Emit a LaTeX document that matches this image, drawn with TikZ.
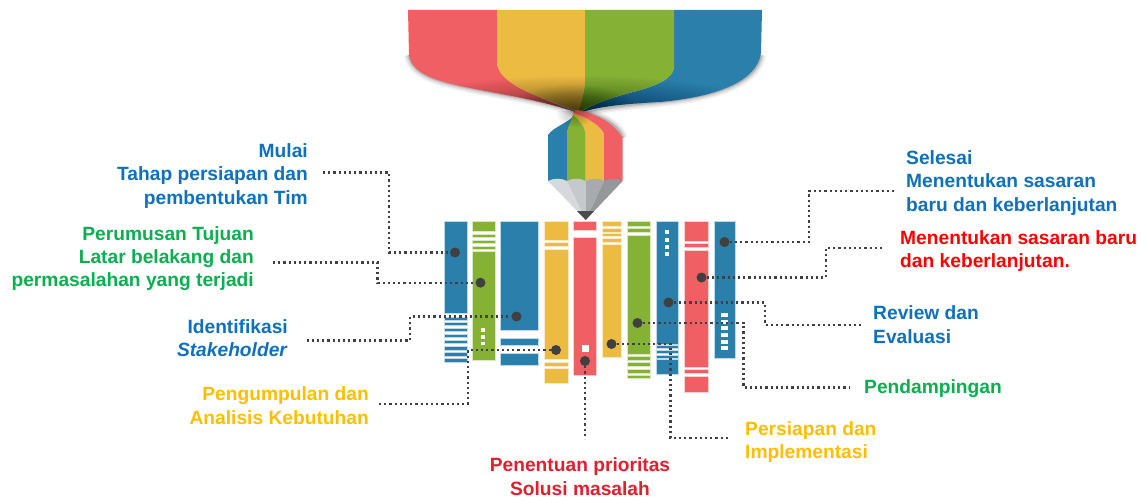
\documentclass[tikz,border=0pt]{standalone}
\usepackage{fontspec}
\setmainfont{Liberation Sans}
\definecolor{cblue}{HTML}{2A7FAB}
\definecolor{cgreen}{HTML}{85B135}
\definecolor{cyel}{HTML}{ECBC42}
\definecolor{cred}{HTML}{EF5F64}
\definecolor{cdot}{HTML}{404040}
\definecolor{tblue}{HTML}{0F70BE}
\definecolor{tgreen}{HTML}{0BAF4F}
\definecolor{tyel}{HTML}{FFBE00}
\definecolor{tred}{HTML}{E0202E}
\definecolor{tred2}{HTML}{FF0000}
\tikzset{
 lbl/.style={font=\bfseries\fontsize{19.2}{23.4}\selectfont, inner sep=0pt, align=left, anchor=west},
 lblr/.style={font=\bfseries\fontsize{19.2}{23.4}\selectfont, inner sep=0pt, align=right, anchor=east},
 lblc/.style={font=\bfseries\fontsize{19.2}{23.4}\selectfont, inner sep=0pt, align=center, anchor=center},
 hub/.style={circle, fill=cdot, draw=none, minimum size=10pt, inner sep=0pt},
 wire/.style={draw=cdot, line width=2.4pt, dash pattern=on 2.2pt off 3pt},
 sq/.style={fill=white, draw=none},
}
\newcommand{\bars}[4]{\foreach \ya/\yb in {#4}{\fill[#1,draw=white!70!#1,line width=.5pt] (#2,\ya) rectangle (#3,\yb);}}
\begin{document}
\begin{tikzpicture}[x=1pt,y=-1pt]
\useasboundingbox (0,0) rectangle (1145,497);
% funnel shadows
\foreach \w/\o in {10/.05,7/.07,4/.09,2/.12}{
 \draw[black,opacity=\o,line width=\w pt] (409,55) .. controls (412,75) and (440,82) .. (470,88) .. controls (510,96) and (545,101) .. (575,112);
 \draw[black,opacity=\o,line width=\w pt] (761,55) .. controls (757,82) and (715,97) .. (660,102) .. controls (625,105) and (600,108) .. (583,113);
 \draw[black,opacity=\o,line width=\w pt] (578,111) .. controls (600,115) and (618,124) .. (623,138);
}
% top ribbons
\path[fill=cred] (408,10) -- (497,10) -- (497,63) .. controls (499,80) and (520,90) .. (578,113) .. controls (550,102) and (510,96) .. (470,88) .. controls (440,82) and (412,75) .. (409,55) -- cycle;
\path[fill=cblue] (762,10) -- (674,10) -- (674,68) .. controls (672,78) and (660,85) .. (633,92) .. controls (610,98) and (590,105) .. (580,113) .. controls (600,106) and (625,104) .. (660,102) .. controls (715,97) and (757,82) .. (761,53) -- cycle;
\path[fill=cyel] (497,10) -- (585,10) -- (585,83) .. controls (584,95) and (580,104) .. (578,111) .. controls (540,98) and (499,85) .. (497,63) -- cycle;
\path[fill=cgreen] (585,10) -- (674,10) -- (674,68) .. controls (672,78) and (660,85) .. (633,92) .. controls (610,98) and (590,105) .. (578,113) .. controls (580,104) and (584,95) .. (585,83) -- cycle;
% darkening of the twist (nested translucent ellipses)
\begin{scope}
\clip (409,55) .. controls (412,75) and (440,82) .. (470,88) .. controls (510,96) and (545,101) .. (578,113) .. controls (600,106) and (625,104) .. (660,102) .. controls (715,97) and (757,82) .. (761,53) -- (761,20) -- (409,20) -- cycle;
\foreach \k in {1,...,40}{
 \fill[black,opacity=.0125] (578,114) ellipse [x radius=\k*4.9pt, y radius=\k*0.95pt];
}
\foreach \k in {1,...,24}{
 \fill[black,opacity=.02] (572,110) ellipse [x radius=\k*2.7pt, y radius=\k*1.05pt];
}
\end{scope}
% lower ribbons
\path[fill=cyel] (573,113) .. controls (590,118) and (600,125) .. (604,135) -- (604,181) -- (585.7,181) -- (585.7,133) .. controls (584,126) and (580,121) .. (573,115) -- cycle;
\path[fill=cblue] (573,116) .. controls (570,122) and (553,127) .. (548,135) -- (548,181) -- (567,181) -- (567,133) .. controls (568,127) and (571,122) .. (574,117) -- cycle;
\path[fill=cgreen] (573,115) .. controls (571,122) and (567,127) .. (567,135) -- (567,181) -- (585.7,181) -- (585.7,133) .. controls (584,126) and (580,121) .. (573,115) -- cycle;
\begin{scope}
\clip (548,112) rectangle (623,135);
\foreach \k in {1,...,12}{
 \fill[black,opacity=.025] (575,114) ellipse [x radius=\k*1.5pt, y radius=\k*1.1pt];
}
\end{scope}
\path[fill=cred] (577,110) .. controls (593,113) and (613,121) .. (622.7,138) -- (622.7,181) -- (604,181) -- (604,135) .. controls (603,128) and (590,118) .. (573,113) -- cycle;
\begin{scope}
\clip (577,110) .. controls (593,113) and (613,121) .. (622.7,138) -- (604,135) .. controls (603,128) and (590,118) .. (573,113) -- cycle;
\foreach \k in {1,...,12}{
 \fill[black,opacity=.03] (573,110) ellipse [x radius=\k*1.75pt, y radius=\k*1pt];
}
\end{scope}
% pencil tip
\definecolor{f1}{HTML}{D6D8DB}\definecolor{f2}{HTML}{C5C9CC}\definecolor{f3}{HTML}{A8ABAE}\definecolor{f4}{HTML}{94989B}
\fill[f1] (548,181) .. controls (553,178) and (562,178) .. (567,181) -- (585.7,220) -- cycle;
\fill[f2] (567,181) .. controls (572,178) and (581,178) .. (585.7,181) -- (585.7,220) -- cycle;
\fill[f3] (585.7,181) .. controls (590,178) and (600,178) .. (604,181) -- (585.7,220) -- cycle;
\fill[f4] (604,181) .. controls (609,178) and (618,178) .. (622.7,181) -- (585.7,220) -- cycle;
\fill[black!70] (577,211) -- (594,211) -- (585.7,220) -- cycle;
% bars
\bars{cblue}{444}{467}{221.5/313, 317.5/320, 322/325.7, 328/331.7, 334.3/337.7, 340/343.3, 346.7/350, 352.7/356, 358.3/362.5}
\bars{cgreen}{472.5}{495}{221.5/231.5, 234/237.5, 240/243.5, 246/249, 251/360}
\bars{cblue}{500.5}{538.5}{221.5/330, 338.5/345, 353/365}
\bars{cyel}{544}{568}{221.5/240, 242.5/246, 249/359, 362/366, 368.5/383}
\bars{cred}{573.5}{596}{221.5/230, 237/375}
\bars{cyel}{602}{621.5}{221.5/226, 228.5/232, 233.5/236.5, 238.5/242, 244/357}
\bars{cgreen}{627}{650}{221.5/226, 228.5/232, 235/354, 356/360, 362.5/366.5, 369/373, 375/378.5}
\bars{cblue}{656}{678}{221.5/344, 345.5/348, 350/353, 355/358, 359.5/374}
\bars{cred}{684.5}{708.5}{221.5/241, 243.5/247, 250.5/367, 369.5/373.5, 376/392}
\bars{cblue}{714.5}{735}{221.5/358.5}
% small white marks
\foreach \y in {330,336.7,343.3}{\fill[sq] (481.3,\y-1.8) rectangle ++(4,3.6);}
\fill[sq] (581.5,344.5) rectangle (588.5,351.5);
\foreach \y in {232,239.5,246.5,253.5}{\fill[sq] (665,\y-2) rectangle ++(4,4);}
\foreach \y in {315,321.5,328,335,341.5,348}{\fill[sq] (721,\y-2) rectangle ++(7,4);}
% hubs
\node[hub] (h1) at (455,252.5) {};
\node[hub] (h2) at (480.5,282.7) {};
\node[hub] (h3) at (516.5,316.5) {};
\node[hub] (h4) at (556,350) {};
\node[hub] (h5) at (585,361) {};
\node[hub] (h6) at (611.5,344) {};
\node[hub] (h7) at (637.5,323) {};
\node[hub] (h8) at (668.5,302.5) {};
\node[hub] (h9) at (701.5,277.5) {};
\node[hub] (h10) at (724.5,242) {};
% labels
\node[lblr,text=tblue] (t1) at (308,175.8) {Mulai\\Tahap persiapan dan\\pembentukan Tim};
\node[lblr,text=tgreen] (t2) at (254,258.5) {Perumusan Tujuan\\Latar belakang dan\\permasalahan yang terjadi};
\node[lblr,text=tblue] (t3) at (288,338) {Identifikasi\\\textit{Stakeholder}};
\node[lblr,text=tyel] (t4) at (369,405.5) {Pengumpulan dan\\Analisis Kebutuhan};
\node[lblc,text=tred] (t5) at (580,476.5) {Penentuan prioritas\\Solusi masalah};
\node[lbl,text=tyel] (t6) at (745,442) {Persiapan dan\\Implementasi};
\node[lbl,text=tgreen] (t7) at (864,389) {Pendampingan};
\node[lbl,text=tblue] (t8) at (873,324.5) {Review dan\\Evaluasi};
\node[lbl,text=tred2] (t9) at (900,251) {Menentukan sasaran baru\\dan keberlanjutan.};
\node[lbl,text=tblue] (t10) at (906,183) {Selesai\\Menentukan sasaran\\baru dan keberlanjutan};
% wire ends
\coordinate (e1) at (323,172.7);
\coordinate (e2) at (273,262.3);
\coordinate (e3) at (306.5,340.5);
\coordinate (e4) at (379,404);
\coordinate (e5) at (585,439);
\coordinate (e6) at (728,437.7);
\coordinate (e7) at (850,387.5);
\coordinate (e8) at (861.5,325);
\coordinate (e9) at (883,248);
\coordinate (e10) at (895,191);
\draw[wire] (e1) -- (389,172.7) -- (389,252.5) -- (h1);
\draw[wire] (e2) -- (377.5,262.3) -- (377.5,282.7) -- (h2);
\draw[wire] (e3) -- (410,340.5) -- (410,316.5) -- (h3);
\draw[wire] (e4) -- (468,404) -- (468,350) -- (h4);
\draw[wire] (h5) -- (e5);
\draw[wire] (h6) -- (670.3,344) -- (670.3,437.7) -- (e6);
\draw[wire] (h7) -- (743.5,323) -- (743.5,387.5) -- (e7);
\draw[wire] (h8) -- (765,302.5) -- (765,325) -- (e8);
\draw[wire] (h9) -- (826,277.5) -- (826,248) -- (e9);
\draw[wire] (h10) -- (809,242) -- (809,191) -- (e10);
\end{tikzpicture}
\end{document}
